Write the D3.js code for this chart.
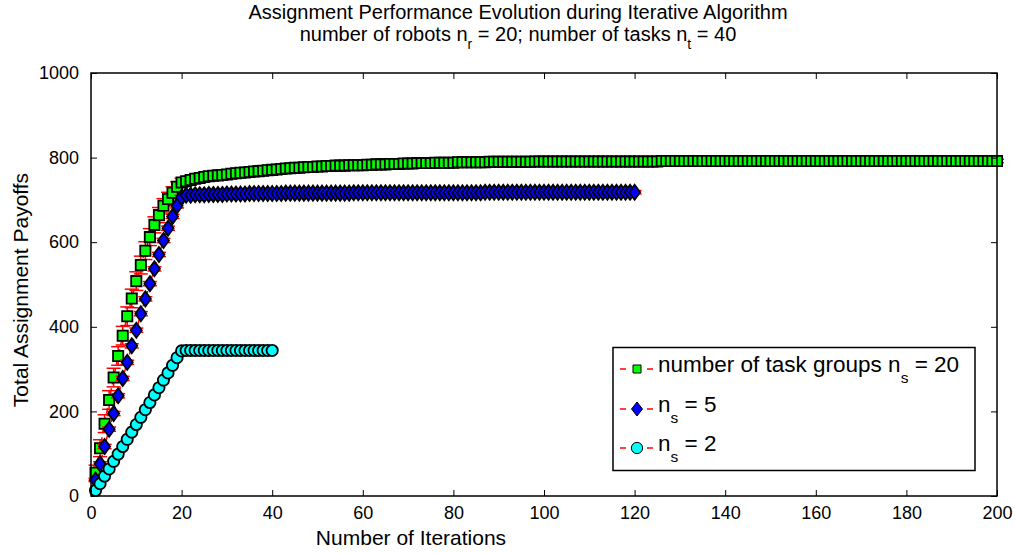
<!DOCTYPE html>
<html>
<head>
<meta charset="utf-8">
<script src="https://cdn.jsdelivr.net/npm/d3@7"></script>
<style>
  body { margin: 0; background: #fff; }
  text { font-family: "Liberation Sans", Arial, sans-serif; fill: #000; }
</style>
</head>
<body>
<div id="chart"></div>
<script>
// values
var payoffs20 = [55, 113, 171, 227, 280, 331, 379, 425, 467, 508,
  546, 580, 612, 641, 664, 686, 702, 717, 731, 741,
  744, 747, 750, 752, 754, 756, 757, 758, 759, 760,
  762, 763, 764, 765, 766, 767, 768, 769, 770, 771,
  772, 773, 774, 775, 776, 776, 777, 778, 778, 779,
  779, 780, 780, 781, 781, 781, 782, 782, 782, 782,
  783, 783, 784, 784, 784, 785, 785, 785, 786, 786,
  786, 787, 787, 787, 787, 788, 788, 788, 788, 788,
  789, 789, 789, 789, 789, 789, 789, 790, 790, 790,
  790, 790, 790, 790, 790, 790, 790, 791, 791, 791,
  791, 791, 791, 791, 791, 791, 791, 791, 791, 791,
  791, 791, 791, 791, 791, 791, 791, 791, 791, 791,
  791, 791, 791, 791, 791, 792, 792, 792, 792, 792,
  792, 792, 792, 792, 792, 792, 792, 792, 792, 792,
  792, 792, 792, 792, 792, 792, 792, 792, 792, 792,
  792, 792, 792, 792, 792, 792, 792, 792, 792, 792,
  792, 792, 792, 792, 792, 792, 792, 792, 792, 792,
  792, 792, 792, 792, 792, 792, 792, 792, 792, 792,
  792, 792, 792, 792, 792, 792, 792, 792, 792, 792,
  792, 792, 792, 792, 792, 792, 792, 792, 792, 792];
var errors20 = [18, 20, 21, 22, 22, 22, 22, 22, 22, 22,
  21, 21, 20, 19, 18, 17, 16, 14, 12, 10,
  9, 9, 8, 8, 8, 7, 7, 7, 7, 7,
  6, 6, 6, 6, 6, 6, 6, 6, 5, 5,
  5, 5, 5, 5, 5, 5, 5, 5, 5, 5,
  5, 5, 5, 5, 4, 4, 4, 4, 4, 4,
  4, 4, 4, 4, 4, 4, 4, 4, 4, 4,
  4, 4, 4, 4, 4, 4, 4, 4, 4, 4,
  4, 4, 4, 4, 4, 4, 4, 4, 4, 4,
  4, 4, 4, 4, 4, 4, 4, 4, 4, 4,
  4, 4, 4, 4, 4, 4, 4, 4, 4, 4,
  4, 4, 4, 4, 4, 4, 4, 4, 4, 4,
  4, 4, 4, 4, 4, 4, 4, 4, 4, 4,
  4, 4, 4, 4, 4, 4, 4, 4, 4, 4,
  4, 4, 4, 4, 4, 4, 4, 4, 4, 4,
  4, 4, 4, 4, 4, 4, 4, 4, 4, 4,
  4, 4, 4, 4, 4, 4, 4, 4, 4, 4,
  4, 4, 4, 4, 4, 4, 4, 4, 4, 4,
  4, 4, 4, 4, 4, 4, 4, 4, 4, 4,
  4, 4, 4, 4, 4, 4, 4, 4, 4, 4];

var payoffs5 = [38, 76, 117, 158, 195, 237, 278, 316, 355, 392,
  431, 466, 502, 537, 571, 604, 633, 661, 686, 706,
  711, 711, 712, 712, 712, 713, 713, 713, 713, 714,
  714, 714, 714, 714, 715, 715, 715, 715, 715, 715,
  715, 715, 716, 716, 716, 716, 716, 716, 716, 716,
  716, 716, 716, 716, 716, 716, 716, 717, 717, 717,
  717, 717, 717, 717, 717, 717, 717, 717, 717, 717,
  717, 717, 717, 717, 717, 717, 717, 717, 717, 717,
  717, 717, 717, 717, 717, 717, 718, 718, 718, 718,
  718, 718, 718, 718, 718, 718, 718, 718, 718, 718,
  718, 718, 718, 718, 718, 718, 718, 718, 718, 718,
  718, 718, 718, 718, 718, 718, 718, 718, 718, 718];
var errors5 = [4, 5, 5, 5, 5, 5, 5, 5, 5, 5,
  5, 5, 5, 5, 5, 5, 5, 5, 5, 5,
  4, 4, 4, 4, 4, 4, 4, 4, 4, 4,
  4, 4, 4, 4, 4, 4, 4, 4, 4, 4,
  4, 4, 4, 4, 4, 4, 4, 4, 4, 4,
  4, 4, 4, 4, 4, 4, 4, 4, 4, 4,
  4, 4, 4, 4, 4, 4, 4, 4, 4, 4,
  4, 4, 4, 4, 4, 4, 4, 4, 4, 4,
  4, 4, 4, 4, 4, 4, 4, 4, 4, 4,
  4, 4, 4, 4, 4, 4, 4, 4, 4, 4,
  4, 4, 4, 4, 4, 4, 4, 4, 4, 4,
  4, 4, 4, 4, 4, 4, 4, 4, 4, 4];

var payoffs2 = [13, 29, 47, 64, 82, 99, 117, 134, 151, 169,
  186, 204, 221, 239, 256, 274, 291, 309, 327, 343,
  344, 344, 344, 344, 344, 344, 344, 344, 344, 344,
  344, 344, 344, 344, 344, 344, 344, 344, 344, 344];

var xTicks = [0, 20, 40, 60, 80, 100, 120, 140, 160, 180, 200];
var yTicks = [0, 200, 400, 600, 800, 1000];

var width = 1015;
var height = 553;
var margin = { top: 73, right: 18, bottom: 57, left: 91 };
var chartWidth = width - margin.left - margin.right;
var chartHeight = height - margin.top - margin.bottom;

var svg = d3.select("#chart")
  .append("svg")
  .attr("width", width)
  .attr("height", height);

var chartGroup = svg.append("g")
  .attr("transform", `translate(${margin.left}, ${margin.top})`);

var xScale = d3.scaleLinear().domain([0, 200]).range([0, chartWidth]);
var yScale = d3.scaleLinear().domain([0, 1000]).range([chartHeight, 0]);

// series table built from the arrays above
var series = [
  { vals: payoffs20, errs: errors20, fill: "#00ff00", shape: d3.symbolSquare, size: 105 },
  { vals: payoffs5, errs: errors5, fill: "#0000ff", shape: "diamond", size: 0 },
  { vals: payoffs2, errs: null, fill: "#00ffff", shape: d3.symbolCircle, size: 100 }
];

function markerPath(s) {
  if (s.shape === "diamond") return "M0,-7.5L5.5,0L0,7.5L-5.5,0Z";
  return d3.symbol().type(s.shape).size(s.size)();
}

var line = d3.line()
  .x(d => xScale(d.x))
  .y(d => yScale(d.y));

series.forEach(function(s) {
  var pts = s.vals.map((v, i) => ({ x: i + 1, y: v, e: s.errs ? s.errs[i] : 0 }));
  var g = chartGroup.append("g");

  g.append("path")
    .datum(pts)
    .attr("d", line)
    .attr("fill", "none")
    .attr("stroke", "red")
    .attr("stroke-width", 1.5)
    .attr("stroke-dasharray", "6,4");

  if (s.errs) {
    var eb = g.selectAll(".eb").data(pts).enter().append("g");
    eb.append("line")
      .attr("x1", d => xScale(d.x)).attr("x2", d => xScale(d.x))
      .attr("y1", d => yScale(d.y - d.e)).attr("y2", d => yScale(d.y + d.e))
      .attr("stroke", "red").attr("stroke-width", 1.5);
    [-1, 1].forEach(function(sgn) {
      eb.append("line")
        .attr("x1", d => xScale(d.x) - 7).attr("x2", d => xScale(d.x) + 7)
        .attr("y1", d => yScale(d.y + sgn * d.e)).attr("y2", d => yScale(d.y + sgn * d.e))
        .attr("stroke", "red").attr("stroke-width", 1.5);
    });
  }

  g.selectAll(".mk").data(pts).enter().append("path")
    .attr("d", markerPath(s))
    .attr("transform", d => `translate(${xScale(d.x)},${yScale(d.y)})`)
    .attr("fill", s.fill)
    .attr("stroke", "#000")
    .attr("stroke-width", 1.8);
});

// axes box with inward ticks
var fontSize = 18;
chartGroup.append("rect")
  .attr("width", chartWidth).attr("height", chartHeight)
  .attr("fill", "none").attr("stroke", "#000").attr("stroke-width", 1.5);

var xAxis = d3.axisBottom(xScale).tickValues(xTicks).tickFormat(d3.format("d"))
  .tickSizeInner(-6).tickSizeOuter(0).tickPadding(10);
var yAxis = d3.axisLeft(yScale).tickValues(yTicks).tickFormat(d3.format("d"))
  .tickSizeInner(-6).tickSizeOuter(0).tickPadding(12);
var xAxisTop = d3.axisTop(xScale).tickValues(xTicks).tickSizeInner(-6).tickSizeOuter(0).tickFormat("");
var yAxisRight = d3.axisRight(yScale).tickValues(yTicks).tickSizeInner(-6).tickSizeOuter(0).tickFormat("");

[
  chartGroup.append("g").attr("transform", `translate(0, ${chartHeight})`).call(xAxis),
  chartGroup.append("g").call(yAxis),
  chartGroup.append("g").call(xAxisTop),
  chartGroup.append("g").attr("transform", `translate(${chartWidth}, 0)`).call(yAxisRight)
].forEach(function(ax) {
  ax.select(".domain").remove();
  ax.selectAll("line").attr("stroke", "#000").attr("stroke-width", 1);
  ax.selectAll("text").style("font-size", fontSize + "px")
    .style("font-family", "'Liberation Sans', Arial, sans-serif");
});

// titles
svg.append("text")
  .attr("x", 518).attr("y", 19)
  .attr("text-anchor", "middle")
  .style("font-size", "20px")
  .text("Assignment Performance Evolution during Iterative Algorithm");

var sub = svg.append("text")
  .attr("x", 518).attr("y", 41)
  .attr("text-anchor", "middle")
  .style("font-size", "20px");
sub.append("tspan").text("number of robots n");
sub.append("tspan").attr("dy", 8).style("font-size", "14px").text("r");
sub.append("tspan").attr("dy", -8).text(" = 20; number of tasks n");
sub.append("tspan").attr("dy", 8).style("font-size", "14px").text("t");
sub.append("tspan").attr("dy", -8).text(" = 40");

svg.append("text")
  .attr("x", 411).attr("y", 545)
  .attr("text-anchor", "middle")
  .style("font-size", "21px")
  .text("Number of Iterations");

svg.append("text")
  .attr("transform", "translate(28, 290) rotate(-90)")
  .attr("text-anchor", "middle")
  .style("font-size", "21px")
  .text("Total Assignment Payoffs");

// legend
var legend = svg.append("g").attr("transform", "translate(613, 347.5)");
legend.append("rect")
  .attr("width", 362).attr("height", 123)
  .attr("fill", "#fff").attr("stroke", "#000").attr("stroke-width", 1.5);

var legendLabels = [["number of task groups n", "s", " = 20"], ["n", "s", " = 5"], ["n", "s", " = 2"]];
var legendY = [21.5, 61.5, 100.5];
var legendSymbols = [
  { fill: "#00ff00", d: d3.symbol().type(d3.symbolSquare).size(64)() },
  { fill: "#0000ff", d: "M0,-7L5.5,0L0,7L-5.5,0Z" },
  { fill: "#00ffff", d: d3.symbol().type(d3.symbolCircle).size(100)() }
];

legendLabels.forEach(function(lab, i) {
  var row = legend.append("g").attr("transform", `translate(0, ${legendY[i]})`);
  row.append("line").attr("x1", 7).attr("x2", 13).attr("y1", 0).attr("y2", 0)
    .attr("stroke", "red").attr("stroke-width", 1.5);
  row.append("line").attr("x1", 34).attr("x2", 40).attr("y1", 0).attr("y2", 0)
    .attr("stroke", "red").attr("stroke-width", 1.5);
  row.append("path").attr("d", legendSymbols[i].d)
    .attr("transform", "translate(24, 0)")
    .attr("fill", legendSymbols[i].fill).attr("stroke", "#000").attr("stroke-width", 1);
  var t = row.append("text").attr("x", 45).attr("y", 3).style("font-size", "22.5px");
  t.append("tspan").text(lab[0]);
  t.append("tspan").attr("dy", 11).style("font-size", "15.5px").text(lab[1]);
  t.append("tspan").attr("dy", -11).text(lab[2]);
});
</script>
</body>
</html>
